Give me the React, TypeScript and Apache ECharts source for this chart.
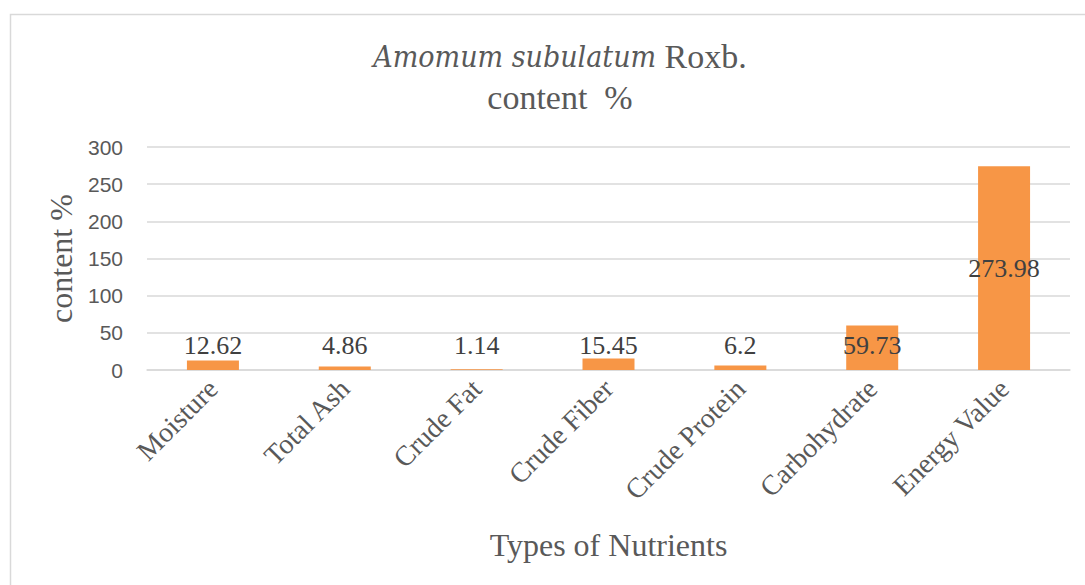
import React, { useEffect, useRef } from "react";
import * as echarts from "echarts";

const categories = ["Moisture", "Total Ash", "Crude Fat", "Crude Fiber", "Crude Protein", "Carbohydrate", "Energy Value"];
const values = [12.62, 4.86, 1.14, 15.45, 6.2, 59.73, 273.98];
const yTicks = { min: 0, max: 300, interval: 50 };

const SERIF = "Liberation Serif";
const SERIF_ITALIC = "'DejaVu Serif Condensed', 'DejaVu Serif', serif";
const SANS = "Liberation Sans";

export default function App() {
  const ref = useRef<HTMLDivElement>(null);
  useEffect(() => {
    document.body.style.margin = "0";
    const chart = echarts.init(ref.current!, undefined, { renderer: "svg" });
    const labelStyle = {
      fontFamily: SERIF,
      fontSize: 26,
      fontWeight: "normal",
      color: "#404040",
    };
    chart.setOption({
      animation: false,
      backgroundColor: "#ffffff",
      title: {
        text: "{i|Amomum subulatum} {n|Roxb.}\n{n|content  %}",
        left: 555,
        top: 31,
        textAlign: "center",
        textStyle: {
          fontFamily: SERIF,
          fontWeight: "normal",
          fontSize: 34,
          color: "#595959",
          rich: {
            i: { fontFamily: SERIF_ITALIC, fontStyle: "italic", fontWeight: "normal", fontSize: 30, color: "#595959", lineHeight: 41 },
            n: { fontFamily: SERIF, fontWeight: "normal", fontSize: 34, color: "#595959", lineHeight: 41 },
          },
        },
      },
      graphic: [
        {
          type: "rect",
          shape: { x: 10.5, y: 14.5, width: 1200, height: 700 },
          style: { fill: "none", stroke: "#d9d9d9", lineWidth: 1.5 },
          silent: true,
        },
      ],
      grid: { left: 147, right: 15, top: 147, bottom: 215 },
      xAxis: {
        type: "category",
        data: categories,
        name: "Types of Nutrients",
        nameLocation: "middle",
        nameGap: 159,
        nameTextStyle: { fontFamily: SERIF, fontSize: 32, color: "#595959" },
        axisLine: { show: true, lineStyle: { color: "#d9d9d9", width: 1.5 } },
        axisTick: { show: false },
        axisLabel: {
          rotate: 45,
          interval: 0,
          margin: 14,
          fontFamily: SERIF,
          fontSize: 28,
          color: "#595959",
        },
      },
      yAxis: {
        type: "value",
        min: yTicks.min,
        max: yTicks.max,
        interval: yTicks.interval,
        name: "content %",
        nameLocation: "middle",
        nameGap: 66,
        nameRotate: 90,
        nameTextStyle: { fontFamily: SERIF, fontSize: 32, color: "#595959" },
        axisLine: { show: false },
        axisTick: { show: false },
        axisLabel: { fontFamily: SANS, fontSize: 21, color: "#595959", margin: 24 },
        splitLine: { lineStyle: { color: "#d9d9d9", width: 1.5 } },
      },
      series: [
        {
          type: "bar",
          barWidth: 52,
          itemStyle: { color: "#f79646" },
          data: values.map((v) => ({
            value: v,
            label:
              v > 100
                ? { ...labelStyle, show: true, position: "inside" }
                : { ...labelStyle, show: true, position: "insideBottom", distance: 12 },
          })),
          label: {
            show: true,
            ...labelStyle,
            formatter: (p: any) => String(p.value),
          },
        },
      ],
    });
    return () => chart.dispose();
  }, []);
  return <div ref={ref} style={{ width: 1085, height: 585 }} />;
}
